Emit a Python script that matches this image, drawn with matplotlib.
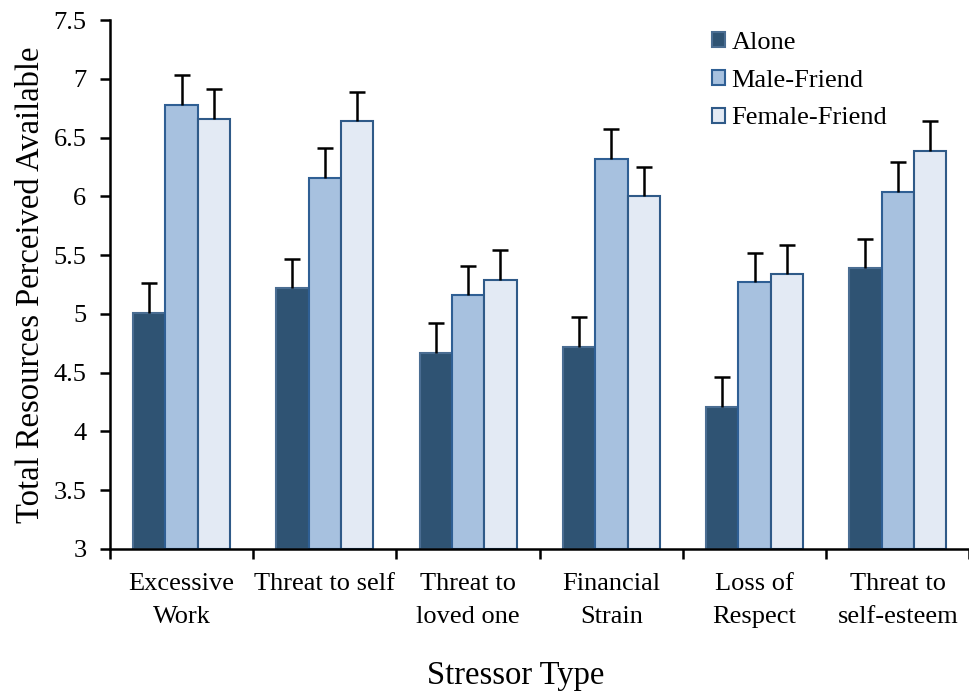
import numpy as np
import matplotlib
matplotlib.use('Agg')
import matplotlib.pyplot as plt
from matplotlib.ticker import FixedLocator, NullFormatter

categories = ["Excessive\nWork", "Threat to self", "Threat to\nloved one",
              "Financial\nStrain", "Loss of\nRespect", "Threat to\nself-esteem"]
alone = [5.01, 5.22, 4.67, 4.72, 4.21, 5.39]
male_friend = [6.78, 6.16, 5.16, 6.32, 5.27, 6.04]
female_friend = [6.66, 6.64, 5.29, 6.00, 5.34, 6.39]
alone_err = [0.25, 0.25, 0.25, 0.25, 0.25, 0.25]
male_err = [0.25, 0.25, 0.25, 0.25, 0.25, 0.25]
female_err = [0.25, 0.25, 0.25, 0.25, 0.25, 0.25]
series_names = ["Alone", "Male-Friend", "Female-Friend"]


def main():
    plt.rcParams['font.family'] = ['Liberation Serif', 'DejaVu Serif']
    fig = plt.figure(figsize=(9.7, 6.94), dpi=100)
    ax = fig.add_axes([0.1134, 0.209, 0.886, 0.762])

    x = np.arange(len(categories))
    w = 0.226
    fills = ['#2F5373', '#A7C1DF', '#E3EAF4']
    edges = ['#4A6D92', '#2F5F94', '#2F5A88']
    data = [alone, male_friend, female_friend]
    errs = [alone_err, male_err, female_err]
    for i in range(3):
        pos = x + (i - 1) * w
        ax.bar(pos, np.array(data[i]) - 3, w, bottom=3, color=fills[i],
               edgecolor=edges[i], linewidth=1.5, label=series_names[i], zorder=2)
        eb = ax.errorbar(pos, data[i], yerr=[np.zeros(len(errs[i])), errs[i]],
                         fmt='none', ecolor='black', elinewidth=1.8, capsize=6,
                         capthick=1.8, zorder=3)
        # only keep the upper cap
        eb[1][0].set_visible(False)

    ax.set_xlim(-0.5, len(categories) - 0.5)
    ax.set_ylim(3, 7.5)
    ax.set_yticks(np.arange(3, 7.51, 0.5))
    ax.set_yticklabels(['3', '3.5', '4', '4.5', '5', '5.5', '6', '6.5', '7', '7.5'])
    ax.set_xticks(x)
    ax.set_xticklabels(categories)
    for t in ax.get_xticklabels():
        t.set_linespacing(1.65)
    ax.xaxis.set_minor_locator(FixedLocator(np.arange(-0.5, len(categories), 1.0)))
    ax.xaxis.set_minor_formatter(NullFormatter())
    ax.tick_params(axis='x', which='major', length=0, pad=17, labelsize=19)
    ax.tick_params(axis='x', which='minor', length=7, width=1.8, direction='out')
    ax.tick_params(axis='y', length=7, width=1.8, direction='out', labelsize=19, pad=10)

    for s in ['top', 'right']:
        ax.spines[s].set_visible(False)
    for s in ['left', 'bottom']:
        ax.spines[s].set_linewidth(1.8)

    ax.set_ylabel("Total Resources Perceived Available", fontsize=23.5, labelpad=5)
    ax.set_xlabel("Stressor Type", fontsize=23.5)
    ax.xaxis.set_label_coords(0.4715, -0.21)

    ax.legend(loc='upper left', bbox_to_anchor=(0.70, 0.978), frameon=False,
              fontsize=19, handlelength=0.5, handleheight=0.5, handletextpad=0.25,
              labelspacing=0.6, borderpad=0, borderaxespad=0)

    plt.savefig('out.png', dpi=100)


if __name__ == '__main__':
    main()
